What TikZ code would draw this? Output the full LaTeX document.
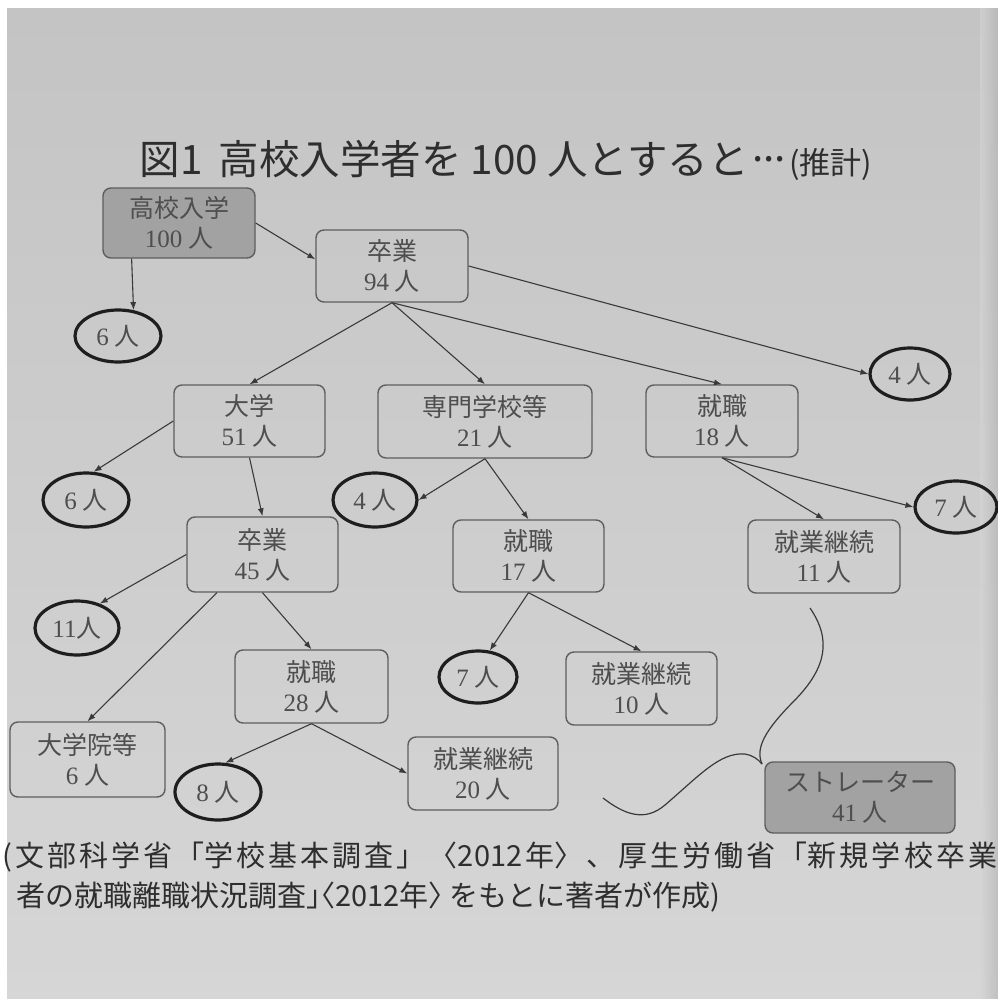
\documentclass[tikz,border=0pt]{standalone}
\usepackage{fontspec}
\setmainfont{Noto Sans CJK JP}
\newfontfamily\ser{Liberation Serif}
\newfontfamily\halfp[RawFeature=+halt]{Noto Sans CJK JP}
\usetikzlibrary{shapes.geometric,arrows.meta,calc}
\definecolor{bgtop}{HTML}{C4C4C4}
\definecolor{bgbot}{HTML}{D6D6D6}
\definecolor{bgedge}{HTML}{B2B2B2}
\definecolor{boxfill}{HTML}{A2A2A2}
\definecolor{boxline}{HTML}{5E5E5E}
\definecolor{boxtext}{HTML}{4E4E4E}
\definecolor{ovalline}{HTML}{1E1E1E}
\definecolor{arrline}{HTML}{3A3A3A}
\definecolor{titlecol}{HTML}{2E2E2E}
\begin{document}
\begin{tikzpicture}[x=1pt,y=-1pt,
  box/.style={draw=boxline, line width=1.4pt, rounded corners=8pt, align=center,
    text=boxtext, inner sep=0pt, font=\fontsize{25}{30}\selectfont},
  darkbox/.style={box, fill=boxfill},
  oval/.style={draw=ovalline, line width=3.2pt, ellipse, inner sep=0pt,
    text=boxtext, font=\fontsize{25}{30}\selectfont},
  arr/.style={draw=arrline, line width=1.1pt, -{Latex[length=8pt,width=6pt]}},
  bracestyle/.style={draw=arrline, line width=1.2pt},
  ttl/.style={text=titlecol, inner sep=0pt}
]
% background
\useasboundingbox (0,0) rectangle (998,999);
\fill[white] (0,0) rectangle (998,999);
\shade[top color=bgtop, bottom color=bgbot] (7,8) rectangle (998,999);
\shade[left color=bgbot, right color=bgedge, opacity=0.6] (980,8) rectangle (998,999);

% title
\node[ttl, font=\fontsize{40.5}{40.5}\selectfont] (title) at (506,160)
  {図1\hspace{16pt}高校入学者を 100 人とすると\makebox[1em]{\raisebox{0.3em}{...}}{\fontsize{31}{31}\selectfont(推計)}};

% boxes
\node[darkbox, minimum width=152pt, minimum height=70pt] (top) at (179,223) {高校入学\\{\ser 100} 人};
\node[box, minimum width=152pt, minimum height=72pt] (g94) at (392,266) {卒業\\{\ser 94} 人};
\node[box, minimum width=151pt, minimum height=72pt] (univ) at (249.5,421) {大学\\{\ser 51} 人};
\node[box, minimum width=214pt, minimum height=73pt] (senmon) at (485,421.5) {専門学校等\\{\ser 21} 人};
\node[box, minimum width=152pt, minimum height=72pt] (job18) at (722,421) {就職\\{\ser 18} 人};
\node[box, minimum width=151pt, minimum height=75pt] (g45) at (262.5,554.5) {卒業\\{\ser 45} 人};
\node[box, minimum width=151pt, minimum height=72pt] (job17) at (528.5,556) {就職\\{\ser 17} 人};
\node[box, minimum width=152pt, minimum height=73pt] (cont11) at (824,556.5) {就業継続\\{\ser 11} 人};
\node[box, minimum width=153pt, minimum height=73pt] (job28) at (311.5,686.5) {就職\\{\ser 28} 人};
\node[box, minimum width=151pt, minimum height=73pt] (cont10) at (641.5,688.5) {就業継続\\{\ser 10} 人};
\node[box, minimum width=155pt, minimum height=75pt] (grad) at (87.5,759.5) {大学院等\\{\ser 6} 人};
\node[box, minimum width=150pt, minimum height=73pt] (cont20) at (483,773.5) {就業継続\\{\ser 20} 人};
\node[darkbox, minimum width=190pt, minimum height=71pt] (str) at (860,797.5) {ストレーター\\{\ser 41} 人};

% ovals
\node[oval, minimum width=86pt, minimum height=52pt] (e6a) at (118,336) {{\ser 6} 人};
\node[oval, minimum width=80pt, minimum height=52pt] (e4a) at (910,374) {{\ser 4} 人};
\node[oval, minimum width=86pt, minimum height=54pt] (e6b) at (86,500) {{\ser 6} 人};
\node[oval, minimum width=84pt, minimum height=54pt] (e4b) at (375,500) {{\ser 4} 人};
\node[oval, minimum width=82pt, minimum height=52pt] (e7a) at (956,507) {{\ser 7} 人};
\node[oval, minimum width=84pt, minimum height=54pt] (e11) at (77,628) {{\ser 11}人};
\node[oval, minimum width=78pt, minimum height=52pt] (e7b) at (478,677) {{\ser 7} 人};
\node[oval, minimum width=86pt, minimum height=56pt] (e8) at (218,792) {{\ser 8} 人};

% arrows
\draw[arr] (top.217) -- (e6a.59);
\draw[arr] (top.east) -- (g94.175);
\draw[arr] (g94.south) -- (univ.north);
\draw[arr] (g94.south) -- (senmon.north);
\draw[arr] (g94.south) -- (job18.north);
\draw[arr] (g94.east) -- (e4a.west);
\draw[arr] (univ.west) -- (e6b.75);
\draw[arr] (univ.south) -- (g45.north);
\draw[arr] (senmon.south) -- (e4b.east);
\draw[arr] (senmon.south) -- (job17.north);
\draw[arr] (job18.south) -- (cont11.north);
\draw[arr] (job18.south) -- (e7a.west);
\draw[arr] (g45.west) -- (e11.47);
\draw[arr] (g45.220) -- (grad.north);
\draw[arr] (g45.south) -- (job28.north);
\draw[arr] (job17.south) -- (e7b.66);
\draw[arr] (job17.south) -- (cont10.north);
\draw[arr] (job28.south) -- (e8.76);
\draw[arr] (job28.south) -- (cont20.west);

% brace toward the straggler box
\draw[bracestyle] (810,608) .. controls (832,640) and (826,668) .. (795,700)
  .. controls (765,730) and (755,748) .. (762,764);
\draw[bracestyle] (603,798) .. controls (625,815) and (645,822) .. (665,805)
  .. controls (700,775) and (720,752) .. (745,754)
  .. controls (752,755) and (758,759) .. (762,764);

% source note
\node[ttl, anchor=west, font=\fontsize{29}{29}\selectfont] (src1) at (2,857)
  {\hbox to 995pt{(\hfil 文\hfil 部\hfil 科\hfil 学\hfil 省\hfil 「学\hfil 校\hfil 基\hfil 本\hfil 調\hfil 査\hfil 」\hfil 〈2012\hfil 年〉\hfil 、\hfil 厚\hfil 生\hfil 労\hfil 働\hfil 省\hfil 「新\hfil 規\hfil 学\hfil 校\hfil 卒\hfil 業}};
\node[ttl, anchor=west, font=\fontsize{29}{29}\selectfont] (src2) at (16,897)
  {者の就職離職状況調査{\halfp 」〈}2012年{\halfp 〉} をもとに著者が作成)};
\end{tikzpicture}
\end{document}
